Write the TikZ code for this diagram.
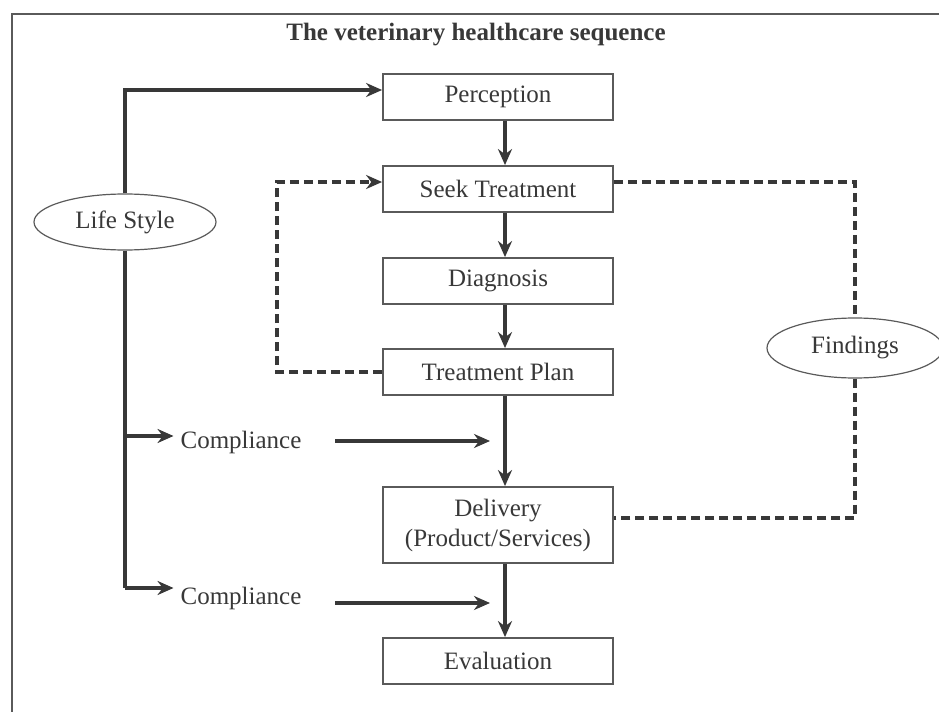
\documentclass[tikz,border=0pt]{standalone}
\usepackage{fontspec}
\setmainfont{Liberation Serif}
\usetikzlibrary{arrows.meta,calc,shapes.geometric}

\definecolor{ink}{HTML}{383838}
\definecolor{rule}{HTML}{5A5A5A}
\newcommand{\txt}{\fontsize{12.5}{15}\selectfont}

\tikzset{
  box/.style={draw=rule, line width=0.9pt, minimum width=115pt, minimum height=23pt, text=ink, font=\txt},
  oval/.style={ellipse, draw=rule, line width=0.6pt, inner sep=0pt, text=ink, font=\txt},
  flow/.style={draw=ink, line width=1.9pt, -{Stealth[length=8pt,width=7pt]}},
  fb/.style={draw=ink, line width=1.8pt, dash pattern=on 4.5pt off 2.5pt}
}

\begin{document}
\begin{tikzpicture}[x=0.5pt,y=-0.5pt]
  \useasboundingbox (0,0) rectangle (939,712);
  \draw[rule, line width=0.7pt] (12,712) -- (12,14) -- (939,14);

  \node[text=ink, font=\bfseries\txt] (title) at (476,35) {The veterinary healthcare sequence};

  \node[box] (perc) at (498,97) {Perception};
  \node[box] (seek) at (498,189) {Seek Treatment};
  \node[box] (diag) at (498,281) {Diagnosis};
  \node[box] (plan) at (498,372) {Treatment Plan};
  \node[box, minimum height=38pt, align=center] (deliv) at (498,525) {Delivery\\ (Product/Services)};
  \node[box] (eval) at (498,661) {Evaluation};

  \node[oval, minimum width=91pt, minimum height=28pt] (life) at (125,222) {Life Style};
  \node[oval, minimum width=88pt, minimum height=30pt] (find) at (855,348) {Findings};

  \node[text=ink, font=\txt] (comp1) at (241,442) {Compliance};
  \node[text=ink, font=\txt] (comp2) at (241,598) {Compliance};

  % main sequence
  \foreach \a/\b in {perc/seek, seek/diag, diag/plan, plan/deliv, deliv/eval}
    \draw[flow] ([xshift=3.5pt]\a.south) -- ([xshift=3.5pt]\b.north);

  % life style
  \coordinate (br1) at (125,436);
  \coordinate (lsbot) at (125,588);
  \draw[flow] (life.north) |- ([yshift=3.5pt]perc.west);
  \draw[draw=ink, line width=1.9pt] (life.south) -- (lsbot);
  \draw[flow] (br1) -- (br1 -| comp1.west);
  \draw[flow] (lsbot) -- (lsbot -| comp2.west);

  % compliance into the sequence
  \coordinate (tail1) at (335,441);
  \coordinate (tip1) at (490,441);
  \coordinate (tail2) at (335,603);
  \coordinate (tip2) at (490,603);
  \draw[flow] (tail1) -- (tip1);
  \draw[flow] (tail2) -- (tip2);

  % feedback
  \coordinate (loop) at (277,182);
  \draw[fb, -{Stealth[length=8pt,width=7pt]}] (plan.west) -| (loop) -- ([yshift=3.5pt]seek.west);
  \draw[fb] ([yshift=3.5pt]seek.east) -| (find.north);
  \draw[fb] (find.south) |- ([yshift=3.5pt]deliv.east);
\end{tikzpicture}
\end{document}
